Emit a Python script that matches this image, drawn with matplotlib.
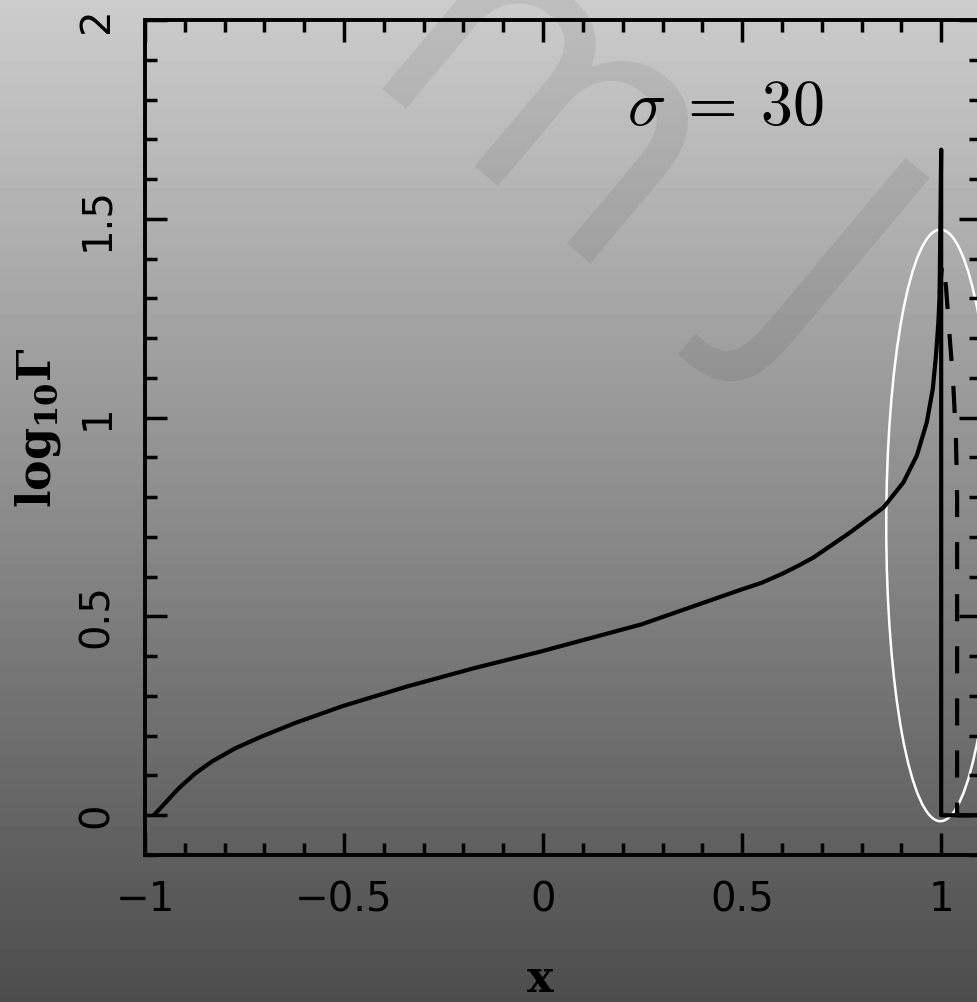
import numpy as np
import matplotlib
matplotlib.use("Agg")
from matplotlib import pyplot as plt
from matplotlib.patches import Ellipse

plt.rcParams["mathtext.fontset"] = "cm"

# solid curve, sigma = 30
x_solid = [-0.975, -0.950, -0.916, -0.874, -0.832, -0.774, -0.707, -0.623, -0.502,
           -0.341, -0.173, -0.005, 0.247, 0.499, 0.550, 0.600, 0.640, 0.679, 0.771,
           0.855, 0.905, 0.939, 0.964, 0.979, 0.987, 0.993, 0.996, 1.0, 1.0, 1.1]
y_solid = [0.003, 0.030, 0.067, 0.105, 0.135, 0.168, 0.198, 0.232, 0.275,
           0.324, 0.370, 0.412, 0.480, 0.568, 0.585, 0.607, 0.627, 0.648, 0.711,
           0.774, 0.837, 0.905, 0.989, 1.073, 1.157, 1.241, 1.309, 1.674, 0.0, 0.0]

# dashed curve (only the part that leaves the solid one)
x_dash = [0.996, 1.001, 1.004, 1.012, 1.020, 1.030, 1.037, 1.040, 1.040, 1.1]
y_dash = [1.309, 1.37, 1.39, 1.33, 1.22, 1.09, 0.95, 0.80, 0.0, 0.0]

xticks = [-1, -0.5, 0, 0.5, 1]
xticklabels = ["\u22121", "\u22120.5", "0", "0.5", "1"]
yticks = [0, 0.5, 1, 1.5, 2]
yticklabels = ["0", "0.5", "1", "1.5", "2"]

fig = plt.figure(figsize=(9.78, 10.02), dpi=100)

# grey gradient background
bg = fig.add_axes([0, 0, 1, 1], zorder=-10)
grad = np.linspace(0.80, 0.30, 256).reshape(-1, 1)
bg.imshow(grad, cmap="gray", vmin=0, vmax=1, aspect="auto", extent=[0, 1, 0, 1])
bg.set_axis_off()

# faint watermark
fig.text(350 / 978, 1 - 88 / 1002, "m", fontsize=245, color="black", alpha=0.07,
         rotation=-40, rotation_mode="anchor", ha="left", va="baseline", zorder=-5)
fig.text(735 / 978, 1 - 305 / 1002, "J", fontsize=230, color="black", alpha=0.07,
         rotation=-40, rotation_mode="anchor", ha="left", va="baseline", zorder=-5)

ax = fig.add_axes([145 / 978, 1 - 855 / 1002, 836 / 978, 835 / 1002])
ax.set_facecolor("none")

ax.plot(x_solid, y_solid, color="black", lw=3.0, solid_joinstyle="round")
ax.plot(x_dash, y_dash, color="black", lw=3.0, dashes=(6.5, 6))

ax.add_patch(Ellipse((0.998, 0.729), 0.272, 1.488, fill=False, edgecolor="white", lw=1.8))

ax.text(0.457, 1.78, r"$\sigma\:=\:30$", fontsize=46, ha="center", va="center")

ax.set_xlim(-1, 1.1)
ax.set_ylim(-0.1, 2)
ax.set_xticks(xticks)
ax.set_xticklabels(xticklabels, fontsize=29)
ax.set_yticks(yticks)
ax.set_yticklabels(yticklabels, fontsize=29, rotation=90, va="center")
ax.set_xticks(np.arange(-1, 1.11, 0.1), minor=True)
ax.set_yticks(np.arange(-0.1, 2.01, 0.1), minor=True)
ax.tick_params(which="both", direction="in", top=True, right=True, width=2.5, color="black")
ax.tick_params(which="major", length=16)
ax.tick_params(which="minor", length=8.5)
ax.tick_params(axis="x", which="major", pad=18)
ax.tick_params(axis="y", which="major", pad=20)
for s in ax.spines.values():
    s.set_linewidth(2.8)

fig.text(38 / 978, 1 - 428 / 1002, r"$\mathbf{log}_{\mathbf{10}}\mathbf{\Gamma}$", fontsize=33,
         rotation=90, ha="center", va="center", math_fontfamily="dejavuserif")
fig.text(540 / 978, 1 - 980 / 1002, r"$\mathbf{x}$", fontsize=32, ha="center", va="center",
         math_fontfamily="dejavuserif")

fig.savefig("out.png", dpi=100)
